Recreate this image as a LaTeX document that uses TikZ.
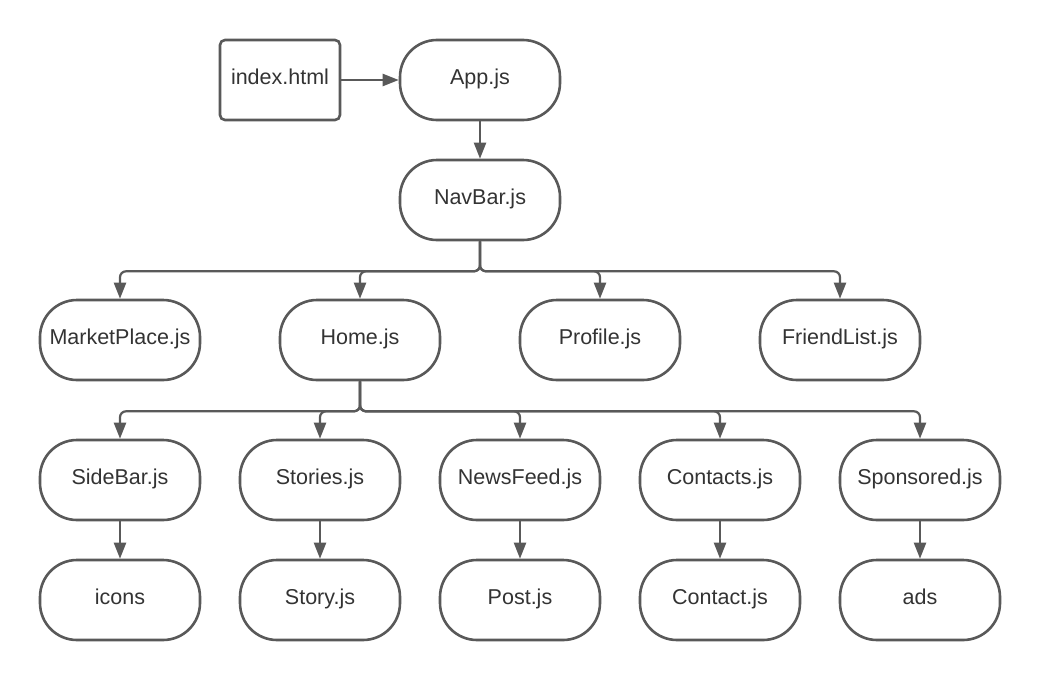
\documentclass[tikz,border=0pt]{standalone}
\usepackage{fontspec}
\setmainfont{Liberation Sans}
\usetikzlibrary{arrows.meta}
\definecolor{linec}{HTML}{595959}
\definecolor{txtc}{HTML}{333333}
\begin{document}
\begin{tikzpicture}[x=1pt,y=-1pt,
  pill/.style={draw=linec, line width=2.6pt, fill=white, rounded corners=37pt,
    minimum width=160pt, minimum height=80pt, inner sep=0pt, text=txtc,
    text height=15.4pt, text depth=7.4pt,
    font=\fontsize{21.5pt}{24pt}\selectfont},
  boxr/.style={pill, rounded corners=5pt, minimum width=120pt},
  arr/.style={draw=linec, line width=2.2pt, rounded corners=6pt,
    -{Triangle[length=16pt,width=12pt]}}]
\useasboundingbox[fill=white] (0,0) rectangle (1040,680);
\node[boxr] (idx) at (280,80) {index.html};
\node[pill] (app) at (480,80) {App.js};
\node[pill] (nav) at (480,200) {NavBar.js};
\node[pill] (mp) at (120,340) {MarketPlace.js};
\node[pill] (home) at (360,340) {Home.js};
\node[pill] (prof) at (600,340) {Profile.js};
\node[pill] (fl) at (840,340) {FriendList.js};
\node[pill] (side) at (120,480) {SideBar.js};
\node[pill] (stor) at (320,480) {Stories.js};
\node[pill] (news) at (520,480) {NewsFeed.js};
\node[pill] (cons) at (720,480) {Contacts.js};
\node[pill] (spon) at (920,480) {Sponsored.js};
\node[pill] (icons) at (120,600) {icons};
\node[pill] (story) at (320,600) {Story.js};
\node[pill] (post) at (520,600) {Post.js};
\node[pill] (con) at (720,600) {Contact.js};
\node[pill] (ads) at (920,600) {ads};
\draw[arr] (idx.east) -- (app.west);
\draw[arr] (app.south) -- (nav.north);
\foreach \c in {mp,home,prof,fl}
  \draw[arr] (nav.south) -- ++(0,30) -| (\c.north);
\foreach \c in {side,stor,news,cons,spon}
  \draw[arr] (home.south) -- ++(0,30) -| (\c.north);
\draw[arr] (side.south) -- (icons.north);
\draw[arr] (stor.south) -- (story.north);
\draw[arr] (news.south) -- (post.north);
\draw[arr] (cons.south) -- (con.north);
\draw[arr] (spon.south) -- (ads.north);
\end{tikzpicture}
\end{document}
